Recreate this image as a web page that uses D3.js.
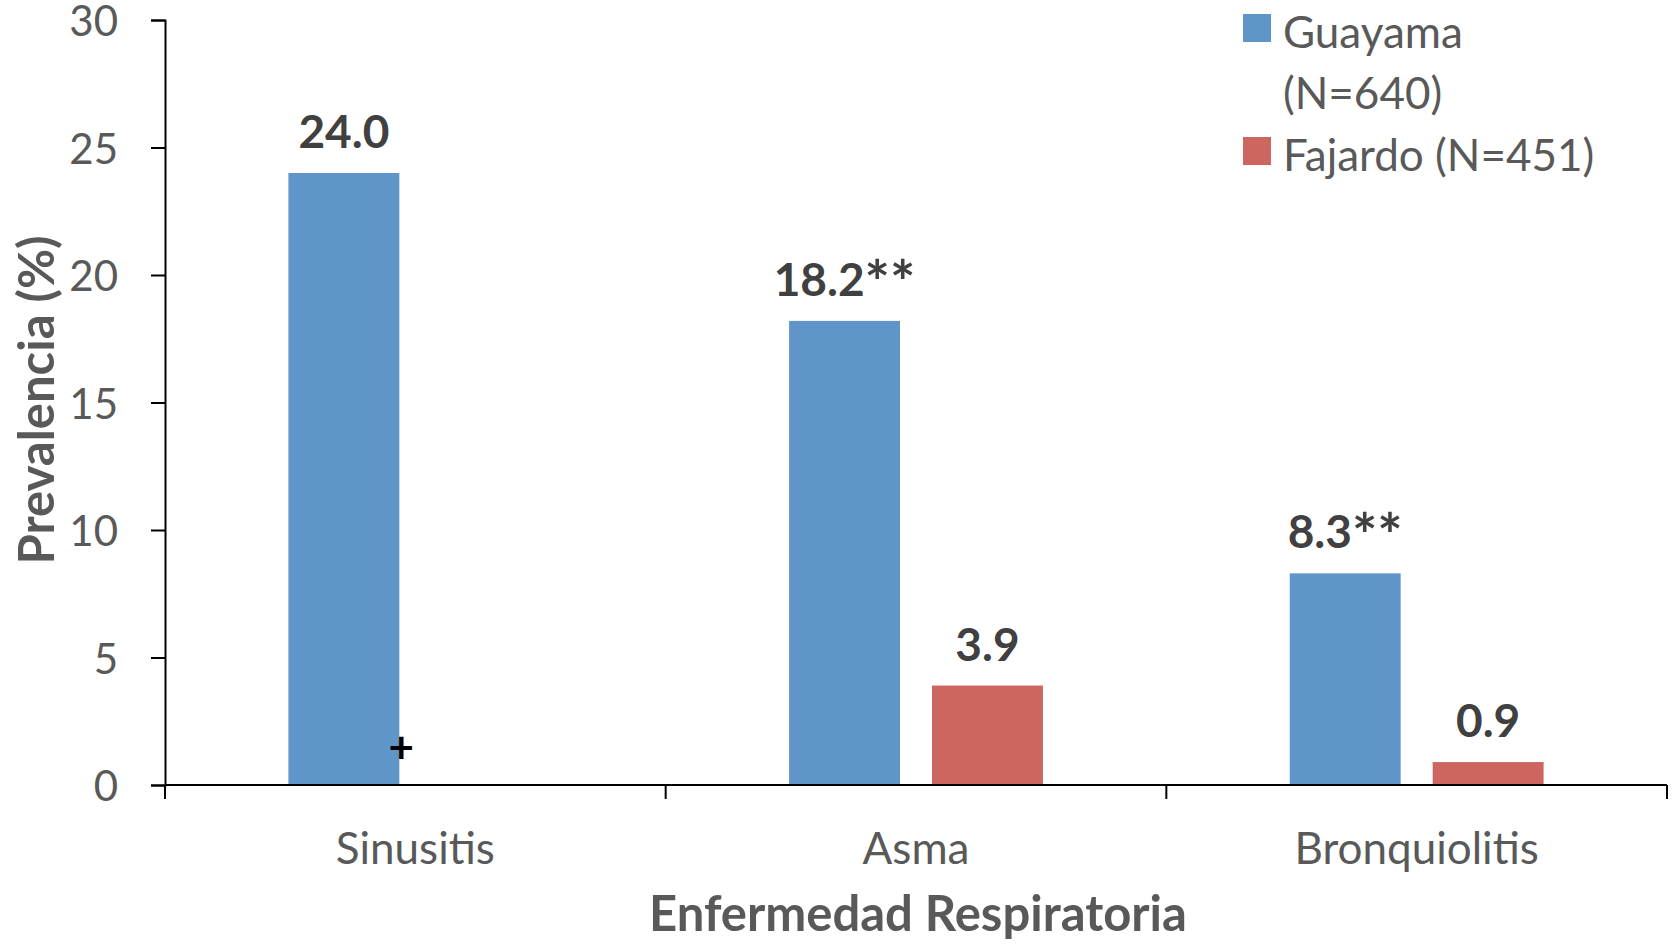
<!DOCTYPE html>
<html>
<head>
<meta charset="utf-8">
<script src="https://cdn.jsdelivr.net/npm/d3@7"></script>
<style>
  body { margin: 0; background: #fff; }
  text { font-family: Lato, "Open Sans", sans-serif; }
  .tick text { fill: #595959; }
</style>
</head>
<body>
<div id="chart"></div>
<script>
// data
const categories = ["Sinusitis", "Asma", "Bronquiolitis"];
const seriesNames = ["Guayama", "Fajardo"];
const guayama = [24.0, 18.2, 8.3];
const fajardo = [null, 3.9, 0.9];
const labelsG = ["24.0", "18.2**", "8.3**"];
const labelsF = ["", "3.9", "0.9"];
const legendLines = [["Guayama", "(N=640)"], ["Fajardo (N=451)"]];
const yTicks = [0, 5, 10, 15, 20, 25, 30];
const colors = ["#6095C9", "#CD6660"];

const width = 1673, height = 944;
const padLeft = 165, padRight = 1667, padTop = 20, padBottom = 785;

let svg = d3.select("#chart").append("svg")
  .attr("width", width)
  .attr("height", height);

let x0 = d3.scaleBand()
  .domain(categories)
  .range([padLeft, padRight])
  .paddingInner(0.493)
  .paddingOuter(0.2465);

let x1 = d3.scaleBand()
  .domain(seriesNames)
  .range([0, x0.bandwidth()])
  .paddingInner(0.224);

let y = d3.scaleLinear()
  .domain([0, 30])
  .range([padBottom, padTop]);

let rows = categories.map((c, i) => ({
  cat: c,
  vals: [
    {s: "Guayama", v: guayama[i], lab: labelsG[i], col: colors[0]},
    {s: "Fajardo", v: fajardo[i], lab: labelsF[i], col: colors[1]}
  ]
}));

//bars
let groups = svg.selectAll("g.group")
  .data(rows)
  .enter()
  .append("g")
  .attr("class", "group")
  .attr("transform", d => `translate(${x0(d.cat)},0)`);

groups.selectAll("rect")
  .data(d => d.vals.filter(v => v.v != null))
  .enter()
  .append("rect")
  .attr("x", d => x1(d.s))
  .attr("y", d => y(d.v))
  .attr("width", x1.bandwidth())
  .attr("height", d => y(0) - y(d.v))
  .attr("fill", d => d.col);

//value labels, asterisks drawn a bit larger
let vals = groups.selectAll("text.val")
  .data(d => d.vals.filter(v => v.v != null))
  .enter()
  .append("text")
  .attr("class", "val")
  .attr("x", d => x1(d.s) + x1.bandwidth() / 2)
  .attr("y", d => y(d.v) - 25)
  .attr("text-anchor", "middle")
  .style("font-size", "46px")
  .style("font-weight", "bold")
  .style("fill", "#404040");
vals.append("tspan").text(d => d.lab.replace("**", ""));
vals.filter(d => d.lab.indexOf("**") >= 0)
  .append("tspan")
  .attr("dy", "0.14em")
  .style("font-size", "1.3em")
  .text("**");

//"+" marker on sinusitis
svg.append("text")
  .attr("x", x0(categories[0]) + x1("Guayama") + x1.bandwidth() + 2)
  .attr("y", y(1.5) + 16)
  .attr("text-anchor", "middle")
  .style("font-size", "44px")
  .style("font-weight", "bold")
  .style("fill", "#000")
  .text("+");

//y axis
let yAxis = d3.axisLeft(y).tickValues(yTicks).tickSize(14).tickPadding(33);
let gy = svg.append("g")
  .attr("transform", `translate(${padLeft},0)`)
  .call(yAxis);
gy.select(".domain").attr("stroke", "#000").attr("stroke-width", 2);
gy.selectAll(".tick line").attr("stroke", "#000").attr("stroke-width", 2);
gy.selectAll(".tick text").style("font-size", "42px").attr("dy", "0.38em");

//x axis, ticks at category boundaries
let boundaries = [padLeft].concat(categories.map((c, i) => padLeft + x0.step() * (i + 1)));
let gx = svg.append("g")
  .attr("transform", `translate(0,${padBottom})`);
gx.append("path")
  .attr("d", `M ${padLeft},0 L ${padRight},0`)
  .attr("stroke", "#000")
  .attr("stroke-width", 2);
gx.selectAll("line")
  .data(boundaries)
  .enter()
  .append("line")
  .attr("x1", d => d).attr("x2", d => d)
  .attr("y1", 0).attr("y2", 14)
  .attr("stroke", "#000")
  .attr("stroke-width", 2);
gx.selectAll("text")
  .data(categories)
  .enter()
  .append("text")
  .attr("x", d => x0(d) + x0.bandwidth() / 2)
  .attr("y", 79)
  .attr("text-anchor", "middle")
  .style("font-size", "44px")
  .style("fill", "#595959")
  .text(d => d);

//axis titles
svg.append("text")
  .attr("x", (padLeft + padRight) / 2 + 2)
  .attr("y", 931)
  .attr("text-anchor", "middle")
  .style("font-size", "49px")
  .style("font-weight", "bold")
  .style("fill", "#595959")
  .text("Enfermedad Respiratoria");

svg.append("text")
  .attr("transform", "translate(54,400) rotate(-90)")
  .attr("text-anchor", "middle")
  .style("font-size", "49px")
  .style("font-weight", "bold")
  .style("fill", "#595959")
  .text("Prevalencia (%)");

//legend
let legend = svg.append("g").attr("transform", "translate(1243,0)");
let lineY = [[48, 109], [171]];
legendLines.forEach((lines, i) => {
  legend.append("rect")
    .attr("x", 0)
    .attr("y", lineY[i][0] - 34)
    .attr("width", 28)
    .attr("height", 28)
    .attr("fill", colors[i]);
  lines.forEach((t, j) => {
    legend.append("text")
      .attr("x", 40)
      .attr("y", lineY[i][j])
      .style("font-size", "44px")
      .style("fill", "#595959")
      .text(t);
  });
});
</script>
</body>
</html>
